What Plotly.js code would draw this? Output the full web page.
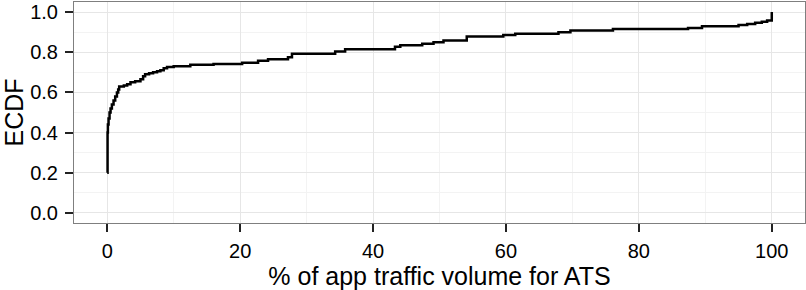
<!DOCTYPE html>
<html>
<head>
<meta charset="utf-8">
<script src="https://cdn.plot.ly/plotly-3.0.1.min.js"></script>
<style>html,body{margin:0;padding:0;background:#fff;}#chart{width:806px;height:290px;}</style>
</head>
<body>
<div id="chart"></div>
<script>
// ECDF of % of app traffic volume for ATS (step points: value where the step starts, cumulative share after it)
const atsPercent = [0, 0.05, 0.1, 0.2, 0.35, 0.5, 0.7, 0.95, 1.2, 1.46, 1.65, 1.8,
  2.5, 3.0, 3.5, 4.2, 5.0, 5.4, 5.7, 6.3, 6.9, 7.5, 8.0, 8.5, 9.0, 10,
  12.5, 16, 20.3, 22.7, 24.2, 27.2, 27.8, 34.3, 35.8, 43.3, 44.1, 47.4,
  49.1, 50.6, 54.1, 59.6, 61.4, 67.9, 69.7, 76.1, 87.4, 89.5, 95.0, 96.3,
  97.5, 98.5, 99.3, 100];
const ecdf = [0.2, 0.40, 0.44, 0.47, 0.50, 0.52, 0.54, 0.56, 0.58, 0.60, 0.615, 0.63,
  0.635, 0.64, 0.65, 0.655, 0.665, 0.68, 0.69, 0.695, 0.70, 0.705, 0.71, 0.72, 0.727, 0.73,
  0.738, 0.742, 0.748, 0.758, 0.765, 0.775, 0.792, 0.803, 0.815, 0.827, 0.835, 0.842,
  0.85, 0.858, 0.878, 0.886, 0.892, 0.90, 0.908, 0.916, 0.921, 0.929, 0.935, 0.94,
  0.947, 0.952, 0.958, 1.0];
const xTicks = [0, 20, 40, 60, 80, 100];
const yTicks = [0, 0.2, 0.4, 0.6, 0.8, 1.0];
const xMinor = [10, 30, 50, 70, 90];
const yMinor = [0.1, 0.3, 0.5, 0.7, 0.9];

const font = 'Liberation Sans, Arial, Helvetica, sans-serif';
const trace = {
  x: atsPercent, y: ecdf, type: 'scatter', mode: 'lines',
  line: {color: '#000000', width: 2.5, shape: 'hv'}, hoverinfo: 'skip'
};
const axisCommon = {
  showline: true, mirror: true, linecolor: '#7f7f7f', linewidth: 1,
  showgrid: true, gridcolor: '#e6e6e6', gridwidth: 1, zeroline: false,
  ticks: 'outside', ticklen: 8, tickwidth: 2, tickcolor: '#222',
  tickfont: {family: font, size: 20, color: '#000'}
};
const layout = {
  width: 806, height: 290,
  margin: {l: 74, r: 1, t: 2, b: 67},
  paper_bgcolor: '#fff', plot_bgcolor: '#fff',
  showlegend: false,
  xaxis: Object.assign({}, axisCommon, {
    range: [-5, 105], tickmode: 'array', tickvals: xTicks,
    ticklabelstandoff: 2,
    minor: {showgrid: true, gridcolor: '#f3f3f3', gridwidth: 1, ticks: '', tickmode: 'array', tickvals: xMinor},
    title: {text: '% of app traffic volume for ATS', font: {family: font, size: 25, color: '#000'}, standoff: 0}
  }),
  yaxis: Object.assign({}, axisCommon, {
    range: [-0.05, 1.05], tickmode: 'array', tickvals: yTicks, tickformat: '.1f',
    ticklabelstandoff: 3,
    minor: {showgrid: true, gridcolor: '#f3f3f3', gridwidth: 1, ticks: '', tickmode: 'array', tickvals: yMinor},
    title: {text: 'ECDF', font: {family: font, size: 25, color: '#000'}, standoff: 1}
  })
};
Plotly.newPlot('chart', [trace], layout, {displayModeBar: false, staticPlot: true});
</script>
</body>
</html>
